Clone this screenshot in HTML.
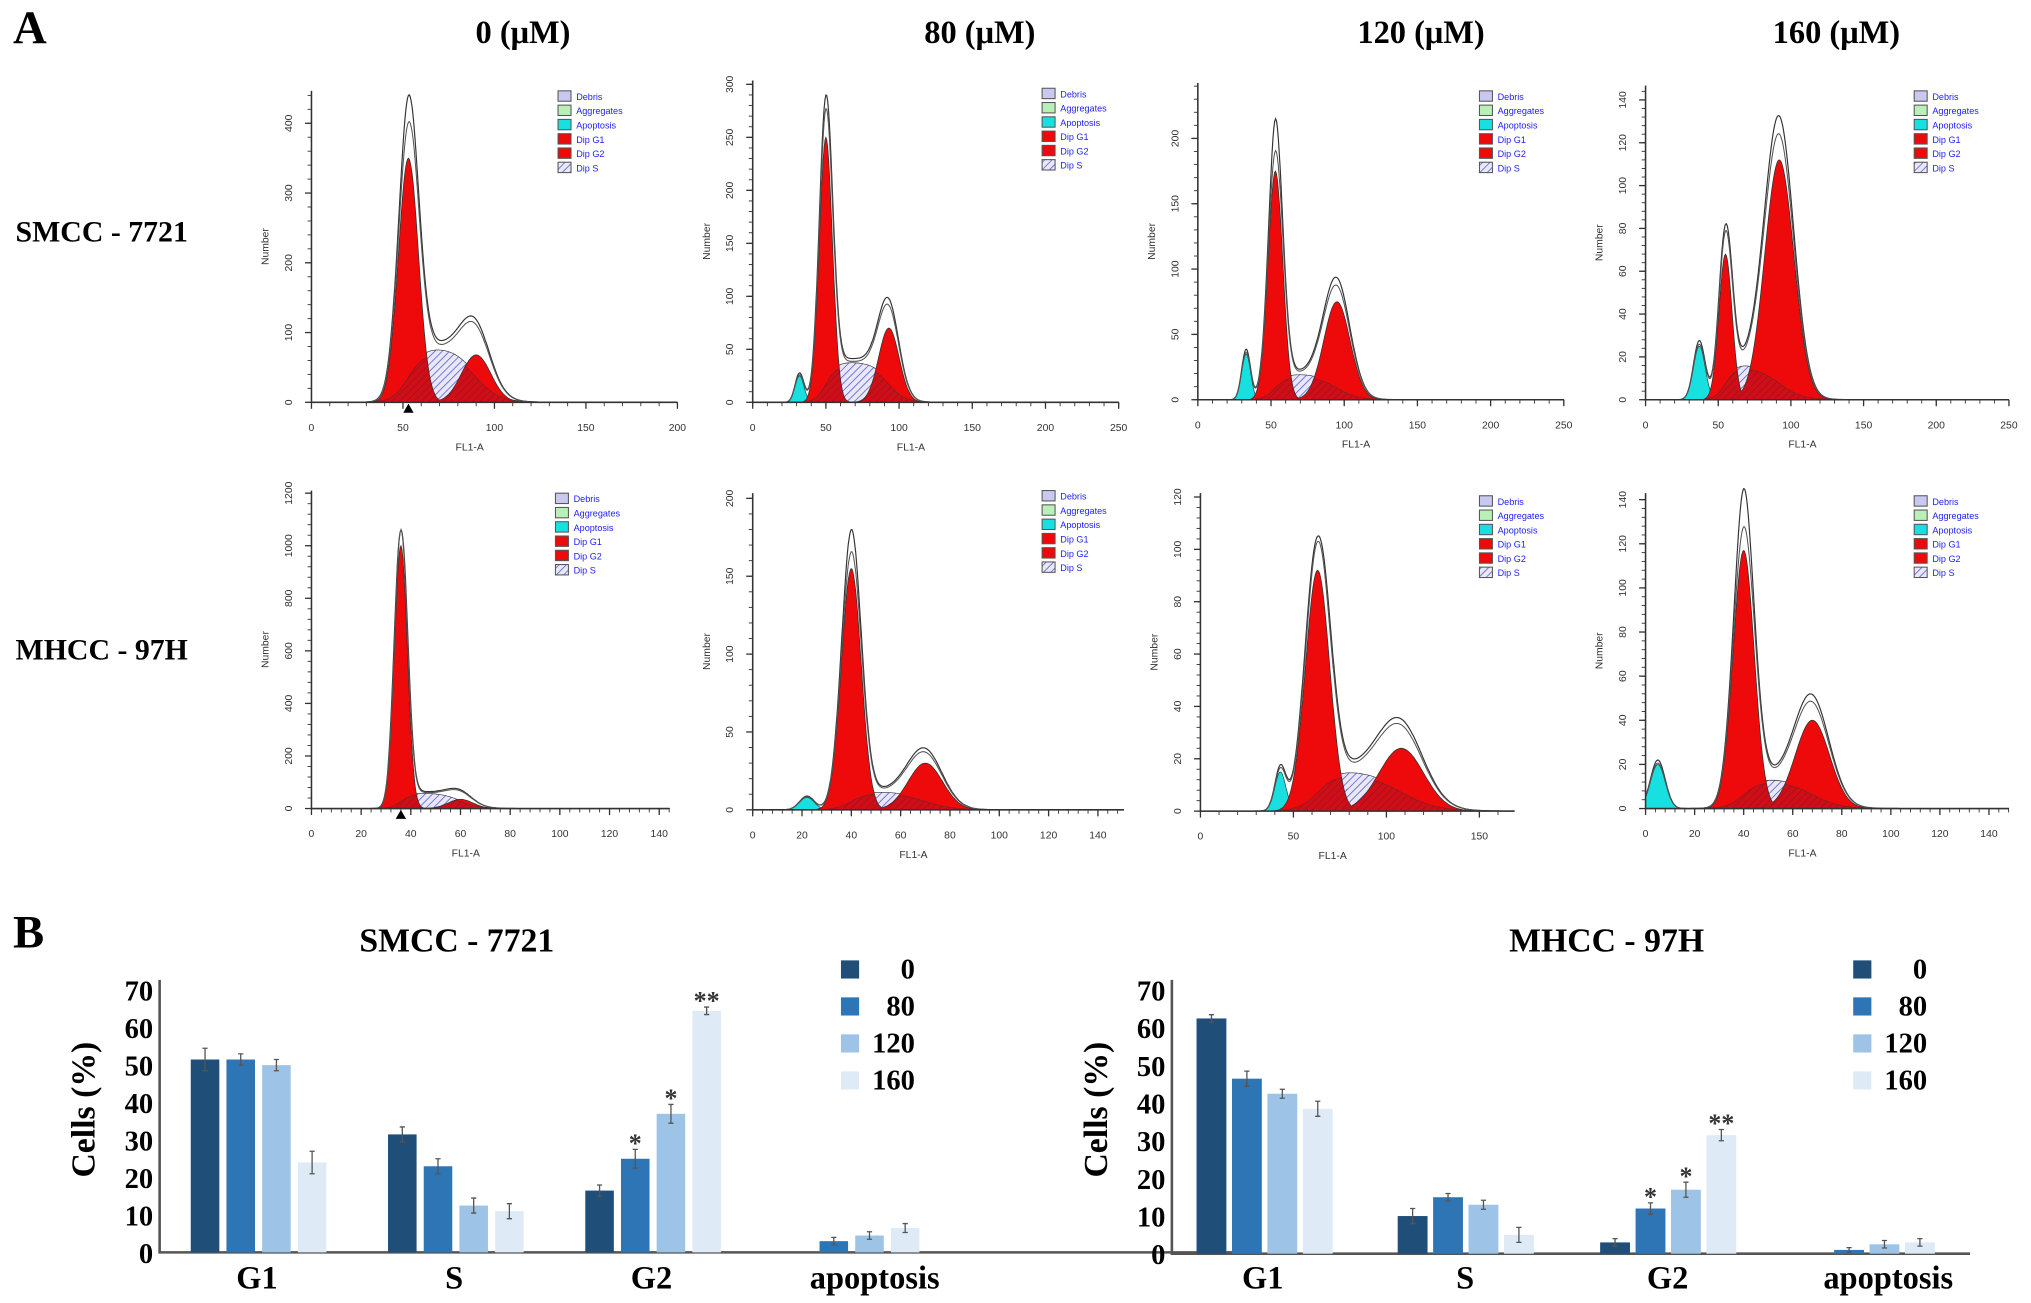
<!DOCTYPE html>
<html><head><meta charset="utf-8"><style>
html,body{margin:0;padding:0;background:#fff}
svg{display:block}
.serif{font-family:"Liberation Serif",serif;font-weight:bold}
.sans{font-family:"Liberation Sans",sans-serif}
</style></head><body>
<svg id="fig" width="2031" height="1303" viewBox="0 0 1565 1004" preserveAspectRatio="none" xmlns="http://www.w3.org/2000/svg">
<defs>
<pattern id="hatch" width="4" height="4" patternUnits="userSpaceOnUse" patternTransform="rotate(45)">
<rect width="4" height="4" fill="#e8e8f8"/><line x1="0" y1="0" x2="0" y2="4" stroke="#5a5ad0" stroke-width="1.2"/></pattern>
<pattern id="hatchR" width="4" height="4" patternUnits="userSpaceOnUse" patternTransform="rotate(45)">
<rect width="4" height="4" fill="#c8101c"/><line x1="0" y1="0" x2="0" y2="4" stroke="#8a1020" stroke-width="1"/></pattern>
</defs>
<text class="serif" x="10" y="33" font-size="36">A</text>
<text class="serif" x="10" y="730" font-size="36">B</text>
<text class="serif" x="403" y="33" font-size="25" text-anchor="middle">0  (μM)</text>
<text class="serif" x="755" y="33" font-size="25" text-anchor="middle">80  (μM)</text>
<text class="serif" x="1095" y="33" font-size="25" text-anchor="middle">120  (μM)</text>
<text class="serif" x="1415" y="33" font-size="25" text-anchor="middle">160  (μM)</text>
<text class="serif" x="12" y="186" font-size="23">SMCC - 7721</text>
<text class="serif" x="12" y="508" font-size="23">MHCC - 97H</text>
<g id="hists"></g>
<g id="bars"></g>
</svg>
<script>
// ---------- Histogram data (component params: [mean, height, sd]) ----------
const histXTicks=[[0,50,100,150,200],[0,50,100,150,200,250],[0,50,100,150,200,250],[0,50,100,150,200,250],
 [0,20,40,60,80,100,120,140],[0,20,40,60,80,100,120,140],[0,50,100,150],[0,20,40,60,80,100,120,140]];
const histYTicks=[[0,100,200,300,400],[0,50,100,150,200,250,300],[0,50,100,150,200],[0,20,40,60,80,100,120,140],
 [0,200,400,600,800,1000,1200],[0,50,100,150,200],[0,20,40,60,80,100,120],[0,20,40,60,80,100,120,140]];
const histG1=[[53,350,5.5],[50,250,4.5],[53,175,5],[55,68,4.5],[36,1000,2.6],[40,155,4],[63,92,6.5],[40,117,4.3]];
const histG2=[[90,68,8],[93,70,7],[95,75,9],[92,112,10],[60,35,5],[70,30,7],[108,24,12],[68,40,7]];
const histS=[80,38,20,17,60,12,16,14];
const histApop=[[0,0,1],[32,25,3],[33,35,3],[37,25,4],[0,0,1],[22,8,3],[43,15,3],[5,20,3]];
const histPeak=[440,290,215,82,1060,180,105,145];
// layout: [ox, pxPerX, base, pxPerY, axisEnd, yTop, legendX, legendY]
const histLayout=[[240,1.41,310,0.5375,522,70,430,70],[580,1.128,310,0.8167,862,62,803,68],[923,1.128,308,1.0067,1205,64,1140,70],[1268,1.12,308,1.65,1548,66,1475,70],
 [240,1.914,623,0.2025,516,378,428,380],[580,1.9,624,1.2,866,380,803,378],[925,1.433,625,2.017,1167,380,1140,382],[1268,1.89,623,1.7,1548,380,1475,382]];

const NS='http://www.w3.org/2000/svg';
function mk(tag,attrs,parent){const e=document.createElementNS(NS,tag);for(const k in attrs)e.setAttribute(k,attrs[k]);parent.appendChild(e);return e;}
const gauss=(x,p)=>p[1]*Math.exp(-((x-p[0])**2)/(2*p[2]*p[2]));
const sig=x=>1/(1+Math.exp(-x));
const hg=document.getElementById('hists');
for(let i=0;i<8;i++){
 const [ox,kx,base,ky,axEnd,yTop,lx,ly]=histLayout[i];
 const X=v=>ox+v*kx, Y=v=>base-v*ky;
 const g=mk('g',{},hg);
 
 
 const g1=histG1[i],g2=histG2[i],sh0=histS[i],ap=histApop[i];
 const sFn=x=>sh0*sig((x-g1[0])/(g1[2]*0.8))*sig((g2[0]-x)/(g2[2]*0.8));
 const xmax=(axEnd-ox)/kx;
 function path(fn){let d='M'+X(0)+','+base;for(let x=0;x<=xmax;x+=xmax/400){d+=' L'+X(x).toFixed(1)+','+Y(fn(x)).toFixed(1);}return d+' L'+X(xmax)+','+base+' Z';}
 function line(fn){let d='';for(let x=0;x<=xmax;x+=xmax/400){d+=(d?' L':'M')+X(x).toFixed(1)+','+Y(fn(x)).toFixed(1);}return d;}
 const total=x=>gauss(x,g1)+gauss(x,g2)+sFn(x)+gauss(x,ap);
 const sp=mk('path',{d:path(sFn),fill:'url(#hatch)',stroke:'#333','stroke-width':0.5},g);
 
 const ap2=mk('path',{d:path(x=>gauss(x,ap)),fill:'#19e0e0',stroke:'#333','stroke-width':0.5},g);
 
 const p1=mk('path',{d:path(x=>gauss(x,g1)),fill:'#ee0a0a',stroke:'#333','stroke-width':0.6},g);
 
 const p2=mk('path',{d:path(x=>gauss(x,g2)),fill:'#ee0a0a',stroke:'#333','stroke-width':0.6},g);
 
 const sh=mk('path',{d:path(x=>Math.min(sFn(x)*0.9,Math.max(gauss(x,g1),gauss(x,g2)))),fill:'url(#hatchR)',stroke:'#333','stroke-width':0.4,opacity:0.8},g);
 
 const scl=histPeak[i]/total(g1[0]);
 const w=x=>Math.exp(-((x-g1[0])**2)/(2*(g1[2]*0.6)**2));
 const o1=mk('path',{d:line(x=>total(x)*(Math.max(1,scl)*w(x)+1.1*(1-w(x)))),fill:'none',stroke:'#333','stroke-width':0.9},g);
 
 const o2=mk('path',{d:line(x=>total(x)*1.03),fill:'none',stroke:'#555','stroke-width':0.8},g);
 
 const ax=mk('path',{d:`M${ox},${yTop} L${ox},${base} L${axEnd},${base}`,fill:'none',stroke:'#333','stroke-width':1.2},g);
 
 const xt=histXTicks[i],yt=histYTicks[i];
 for(let k=0;k<xt.length;k++){
  mk('line',{x1:X(xt[k]),x2:X(xt[k]),y1:base,y2:base+5,stroke:'#333','stroke-width':1},g);
  const t=mk('text',{x:X(xt[k]),y:base+22,'font-size':8,'text-anchor':'middle',fill:'#333',class:'sans'},g);
  t.textContent=xt[k];
  
  
 }
 for(let v=0;v<=xmax;v+=(xt[1]-xt[0])/5){mk('line',{x1:X(v),x2:X(v),y1:base,y2:base+3,stroke:'#333','stroke-width':0.7},g);}
 for(let k=0;k<yt.length;k++){
  if(Y(yt[k])<yTop-2)continue;
  mk('line',{x1:ox-5,x2:ox,y1:Y(yt[k]),y2:Y(yt[k]),stroke:'#333','stroke-width':1},g);
  const t=mk('text',{x:ox-15,y:Y(yt[k]),'font-size':8,'text-anchor':'middle',fill:'#333',class:'sans',transform:`rotate(-90 ${ox-15} ${Y(yt[k])})`},g);
  t.textContent=yt[k];
  
  
 }
 for(let v=0;Y(v)>=yTop;v+=(yt[1]-yt[0])/5){mk('line',{x1:ox-3,x2:ox,y1:Y(v),y2:Y(v),stroke:'#333','stroke-width':0.7},g);}
 const xl=mk('text',{x:(ox+axEnd)/2-30,y:base+37,'font-size':8,fill:'#333',class:'sans'},g);
 xl.textContent='FL1-A';
 
 
 const yl=mk('text',{x:ox-33,y:(base+yTop)/2,'font-size':8,'text-anchor':'middle',fill:'#333',class:'sans',transform:`rotate(-90 ${ox-33} ${(base+yTop)/2})`},g);
 yl.textContent='Number';
 
 
 const legN=['Debris','Aggregates','Apoptosis','Dip G1','Dip G2','Dip S'];
 const legC=['#c8c8f0','#b8f0b8','#19e0e0','#ee0a0a','#ee0a0a','url(#hatch)'];
 for(let k=0;k<6;k++){
  const r=mk('rect',{x:lx,y:ly+k*11,width:10,height:8,fill:legC[k],stroke:'#555','stroke-width':0.8},g);
  
  const t=mk('text',{x:lx+14,y:ly+k*11+7,'font-size':7,fill:'#2020ff',class:'sans'},g);
  t.textContent=legN[k];
  
  
 }
 if(i===0||i===4){const m=mk('path',{d:`M${X(g1[0])-4},${base+8} L${X(g1[0])+4},${base+8} L${X(g1[0])},${base+1} Z`,fill:'#000'},g);}
}

// ---------- Bar chart data ----------
const categories=['G1','S','G2','apoptosis'];
const doses=['0','80','120','160'];
const smccValues=[[51.5,51.5,50,24],[31.5,23,12.5,11],[16.5,25,37,64.5],[0,3,4.5,6.5]];
const smccErrors=[[3,1.5,1.5,3],[2,2,2,2],[1.5,2.5,2.5,1],[0,1,1,1.2]];
const smccStars=[['','','',''],['','','',''],['','*','*','**'],['','','','']];
const mhccValues=[[62.5,46.5,42.5,38.5],[10,15,13,5],[3,12,17,31.5],[0,1,2.5,3]];
const mhccErrors=[[1,2,1.2,2],[2,1,1.2,2],[1,1.5,2,1.5],[0,0.6,1,1]];
const mhccStars=[['','','',''],['','','',''],['','*','*','**'],['','','','']];
const yTickLabels=[0,10,20,30,40,50,60,70];
const barColors=['#1f4e79','#2e75b6','#9dc3e6','#deebf7'];

const bg=document.getElementById('bars');
function barChart(cfg,vals,errs,stars,title){
 const g=mk('g',{},bg);
 
 
 const Y=v=>cfg.base-v*(cfg.base-cfg.top)/70;
 const tt=mk('text',{x:cfg.titleX,y:733,'font-size':26,'text-anchor':'middle',class:'serif'},g);
 tt.textContent=title;
 
 
 const ax=mk('path',{d:`M${cfg.ax},${cfg.top-8} L${cfg.ax},${cfg.base} L${cfg.axEnd},${cfg.base}`,fill:'none',stroke:'#555','stroke-width':2},g);
 
 for(const v of yTickLabels){
  const t=mk('text',{x:cfg.ax-5,y:Y(v)+8,'font-size':22,'text-anchor':'end',class:'serif'},g);
  t.textContent=v;
  
  
 }
 const yl=mk('text',{x:cfg.ytX,y:855,'font-size':26,'text-anchor':'middle',class:'serif',transform:`rotate(-90 ${cfg.ytX} 855)`},g);
 yl.textContent='Cells (%)';
 
 
 for(let c=0;c<categories.length;c++){
  const left=cfg.catStart[c];
  for(let d=0;d<doses.length;d++){
   const x=left+d*cfg.step, v=vals[c][d];
   if(v<=0)continue;
   const r=mk('rect',{x:x,y:Y(v),width:cfg.bw,height:cfg.base-Y(v),fill:barColors[d]},g);
   
   
   const e=errs[c][d], cx=x+cfg.bw/2;
   mk('path',{d:`M${cx},${Y(v+e)} L${cx},${Y(v-e)} M${cx-2},${Y(v+e)} L${cx+2},${Y(v+e)} M${cx-2},${Y(v-e)} L${cx+2},${Y(v-e)}`,stroke:'#555','stroke-width':1,fill:'none'},g);
   if(stars[c][d]){const s=mk('text',{x:cx,y:Y(v+e)+2,'font-size':20,'text-anchor':'middle',fill:'#333',class:'serif'},g);s.textContent=stars[c][d];}
  }
  const t=mk('text',{x:cfg.labelX[c],y:993,'font-size':25,'text-anchor':'middle',class:'serif'},g);
  t.textContent=categories[c];
  
  
 }
 for(let d=0;d<doses.length;d++){
  const r=mk('rect',{x:cfg.legX,y:740+d*28.5,width:14,height:14,fill:barColors[d]},g);
  
  const t=mk('text',{x:cfg.legX+57,y:754+d*28.5,'font-size':22,'text-anchor':'end',class:'serif'},g);
  t.textContent=doses[d];
  
  
 }
}
barChart({ax:123,axEnd:960,base:965,top:763,bw:22,step:27.5,catStart:[147,299,451,604],labelX:[198,350,502,674],legX:648,titleX:352,ytX:73},smccValues,smccErrors,smccStars,'SMCC - 7721');
barChart({ax:903,axEnd:1518,base:966,top:763,bw:23,step:27.3,catStart:[922,1077,1233,1386],labelX:[973,1129,1285,1455],legX:1428,titleX:1238,ytX:853},mhccValues,mhccErrors,mhccStars,'MHCC - 97H');
</script>
</body></html>
